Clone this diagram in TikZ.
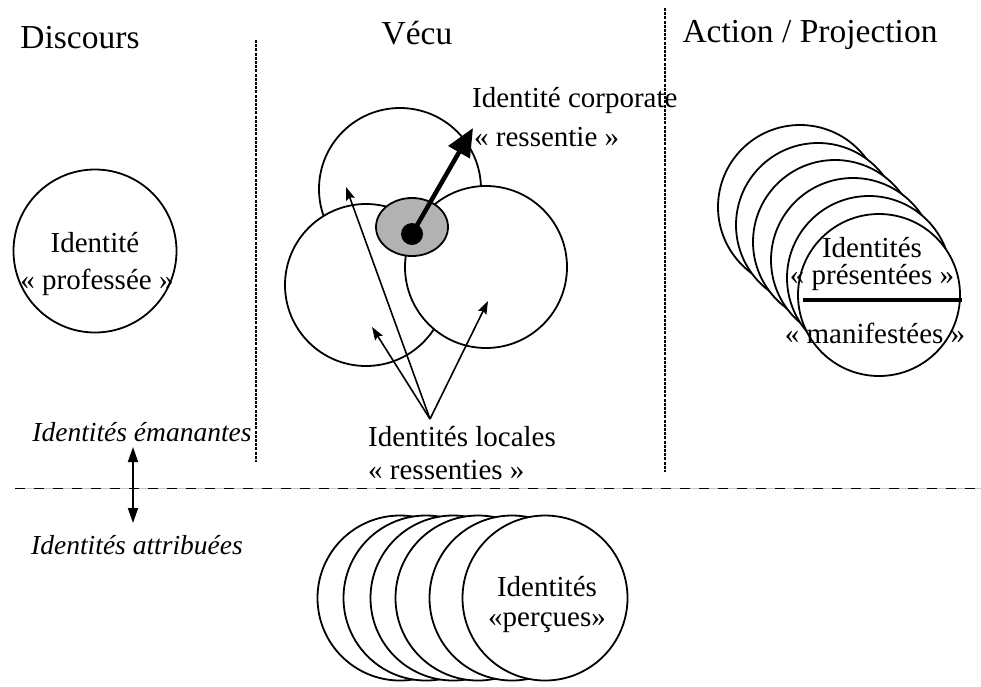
\documentclass[tikz,border=0pt]{standalone}
\usepackage{fontspec}
\setmainfont{Liberation Serif}
\usepackage{tikz}
\usetikzlibrary{shapes,arrows,arrows.meta,positioning,calc}

\tikzset{
	rond/.style={circle, draw, line width=1.8pt, fill=white, minimum size=162pt, inner sep=0pt},
	txt/.style={font=\fontsize{29}{33}\selectfont, inner sep=0pt},
	titre/.style={font=\fontsize{33.5}{38}\selectfont, inner sep=0pt},
	ital/.style={font=\fontsize{27.5}{30}\selectfont\itshape, inner sep=0pt},
	pointille/.style={line width=2.8pt, dash pattern=on 3pt off 1.2pt},
	fleche/.style={line width=1.6pt, -{Stealth[length=13pt,width=9pt,inset=2pt]}},
}

\begin{document}
\begin{tikzpicture}[x=1pt,y=-1pt]
	\useasboundingbox (0,0) rectangle (981,686);
	
	% titres des colonnes
	\node[titre] (discours) at (80,38) {Discours};
	\node[titre] (vecu) at (417,33) {Vécu};
	\node[titre] (action) at (810,35) {Action / Projection};
	\draw[pointille] (256,40) -- (256,462);
	\draw[pointille] (665,8) -- (665,472);
	
	% separation emanantes / attribuees
	\draw[gray!45, line width=1pt] (15,488) -- (981,488);
	\draw[line width=1pt, dash pattern=on 10pt off 9pt] (15,488) -- (981,488);
	
	% Discours
	\node[rond, minimum size=163pt] (professee) at (95,251) {};
	\node[txt] (profA) at (95,243) {Identité};
	\node[txt] (profB) at (97,282) {«~professée~»};
	
	% Vecu
	\node[rond] (vhaut) at (400,189) {};
	\node[rond] (vgauche) at (366,285) {};
	\node[rond] (vdroite) at (486,267) {};
	\node[ellipse, draw, line width=1.8pt, fill=black!30, minimum width=72pt, minimum height=58pt, inner sep=0pt] (tache) at (412,227) {};
	\node[circle, fill=black, minimum size=22pt, inner sep=0pt] (noyau) at (412,234) {};
	\coordinate (corp) at (473,128);
	\draw[line width=4.5pt, -{Triangle[length=28pt,width=24pt]}] (noyau.center) -- (corp);
	\node[txt, anchor=west] (corpA) at (472,100) {Identité corporate};
	\node[txt, anchor=west] (corpB) at (474,137) {«~ressentie~»};
	
	\coordinate (locale) at (430,419);
	\coordinate (lochaut) at (346,187);
	\coordinate (locgauche) at (372,327);
	\coordinate (locdroite) at (488,301);
	\draw[fleche] (locale) -- (lochaut);
	\draw[fleche] (locale) -- (locgauche);
	\draw[fleche] (locale) -- (locdroite);
	\node[txt, anchor=west] (locA) at (368,437) {Identités locales};
	\node[txt, anchor=west] (locB) at (368,470) {«~ressenties~»};
	
	% Action / Projection
	\node[rond, minimum size=164pt] (pres1) at (800,207) {};
	\node[rond, minimum size=164pt] (pres2) at (818,225) {};
	\node[rond, minimum size=164pt] (pres3) at (835,242) {};
	\node[rond, minimum size=164pt] (pres4) at (853,260) {};
	\node[rond, minimum size=164pt] (pres5) at (869,278) {};
	\node[rond] (pres6) at (879,295) {};
	\node[txt, align=center, font=\fontsize{29}{27}\selectfont] (presA) at (872,264) {Identités\\«~présentées~»};
	\draw[line width=4pt] (803,300) -- (962,300);
	\node[txt] (presC) at (875,333) {«~manifestées~»};
	
	% emanantes / attribuees
	\node[ital] (emanantes) at (142,432) {Identités émanantes};
	\node[ital] (attribuees) at (137,545) {Identités attribuées};
	\coordinate (emA) at (133,447);
	\coordinate (emB) at (133,523);
	\draw[line width=1.8pt, {Triangle[length=15pt,width=10pt]}-{Triangle[length=15pt,width=10pt]}] (emA) -- (emB);
	
	% percues
	\node[rond, minimum size=165pt] (perc1) at (400,598) {};
	\node[rond, minimum size=165pt] (perc2) at (426,598) {};
	\node[rond, minimum size=165pt] (perc3) at (453,598) {};
	\node[rond, minimum size=165pt] (perc4) at (478,598) {};
	\node[rond, minimum size=165pt] (perc5) at (512,598) {};
	\node[rond, minimum size=165pt] (perc6) at (545,598) {};
	\node[txt] (percA) at (547,587) {Identités};
	\node[txt] (percB) at (547,623) {«perçues»};
	
\end{tikzpicture}
\end{document}
